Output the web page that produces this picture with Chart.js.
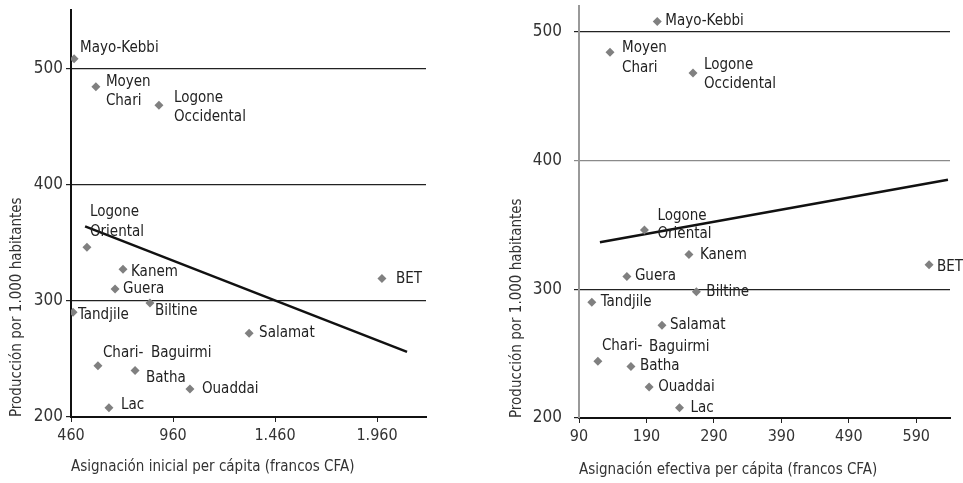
<!DOCTYPE html>
<html>
<head>
<meta charset="utf-8">
<script src="https://cdn.jsdelivr.net/npm/chart.js@4.4.1/dist/chart.umd.min.js"></script>
<style>
  body { margin: 0; background: #fff; }
  .caja { position: absolute; top: 0; height: 483px; }
</style>
</head>
<body>
<div class="caja" style="left:0;width:450px"><canvas id="graficoInicial"></canvas></div>
<div class="caja" style="left:480px;width:483px"><canvas id="graficoEfectiva"></canvas></div>
<script>
// dati: prefetture, produzione e assegnazioni

var nombres = [
    "Mayo-Kebbi", "Moyen Chari", "Logone Occidental", "Logone Oriental",
    "Kanem", "Guera", "Biltine", "Tandjile", "Salamat", "BET",
    "Chari-Baguirmi", "Batha", "Ouaddai", "Lac"
];
var produccion = [508, 484, 468, 346, 327, 310, 298, 290, 272, 319, 244, 240, 224, 208];
var asignacionInicial = [475, 582, 891, 538, 715, 676, 847, 470, 1333, 1984, 592, 774, 1043, 646];
var asignacionEfectiva = [206, 136, 259, 187, 253, 161, 264, 109, 213, 609, 118, 167, 194, 239];

// linee di tendenza (estremi)
var tendInicialX = [529, 2107];
var tendInicialY = [364, 256];
var tendEfectivaX = [121, 637];
var tendEfectivaY = [336.5, 385];

// etichette degli assi
var ticksY = [200, 300, 400, 500];
var ticksInicial = [460, 960, 1460, 1960];
var etiquetasInicial = ["460", "960", "1.460", "1.960"];
var ticksEfectiva = [90, 190, 290, 390, 490, 590];
var etiquetasEfectiva = ["90", "190", "290", "390", "490", "590"];

var fuente = "'Liberation Sans Narrow', 'DejaVu Sans Condensed', sans-serif";

// posizione delle etichette rispetto al punto
var posInicial = {
    "Mayo-Kebbi": [["Mayo-Kebbi", 6, -11]],
    "Moyen Chari": [["Moyen", 10, -5], ["Chari", 10, 14]],
    "Logone Occidental": [["Logone", 15, -7], ["Occidental", 15, 12]],
    "Logone Oriental": [["Logone", 3, -35], ["Oriental", 3, -15]],
    "Kanem": [["Kanem", 8, 3]],
    "Guera": [["Guera", 8, 0]],
    "Biltine": [["Biltine", 5, 8]],
    "Tandjile": [["Tandjile", 5, 3]],
    "Salamat": [["Salamat", 10, 0]],
    "BET": [["BET", 14, 0]],
    "Chari-Baguirmi": [["Chari-", 5, -13], ["Baguirmi", 53, -13]],
    "Batha": [["Batha", 11, 8]],
    "Ouaddai": [["Ouaddai", 12, 0]],
    "Lac": [["Lac", 12, -3]]
};
var posEfectiva = {
    "Mayo-Kebbi": [["Mayo-Kebbi", 8, 0]],
    "Moyen Chari": [["Moyen", 12, -4], ["Chari", 12, 16]],
    "Logone Occidental": [["Logone", 11, -8], ["Occidental", 11, 11]],
    "Logone Oriental": [["Logone", 13, -14], ["Oriental", 13, 4]],
    "Kanem": [["Kanem", 11, 1]],
    "Guera": [["Guera", 8, 0]],
    "Biltine": [["Biltine", 10, 0]],
    "Tandjile": [["Tandjile", 9, 0]],
    "Salamat": [["Salamat", 8, 0]],
    "BET": [["BET", 8, 2]],
    "Chari-Baguirmi": [["Chari-", 4, -15], ["Baguirmi", 51, -14]],
    "Batha": [["Batha", 9, 0]],
    "Ouaddai": [["Ouaddai", 9, 0]],
    "Lac": [["Lac", 11, 0]]
};

var pluginEtiquetas = {
    id: "etiquetas",
    afterDatasetsDraw: function (chart, args, opts) {
        var ctx = chart.ctx;
        var meta = chart.getDatasetMeta(0);
        ctx.save();
        ctx.font = "15px " + fuente;
        ctx.fillStyle = "#222";
        ctx.textAlign = "left";
        ctx.textBaseline = "middle";
        meta.data.forEach(function (pt, i) {
            var lineas = opts.pos[nombres[i]] || [];
            lineas.forEach(function (l) {
                ctx.fillText(l[0], pt.x + l[1], pt.y + l[2]);
            });
        });
        ctx.restore();
    }
};

function crearGrafico(id, xs, tx, ty, cfg) {
    var puntos = xs.map(function (v, i) { return { x: v, y: produccion[i] }; });
    var linea = tx.map(function (v, i) { return { x: v, y: ty[i] }; });
    return new Chart(document.getElementById(id), {
        type: "scatter",
        data: {
            datasets: [
                {
                    data: puntos,
                    pointStyle: "rectRot",
                    pointRadius: 4.5,
                    backgroundColor: "#808080",
                    borderWidth: 0
                },
                {
                    data: linea,
                    showLine: true,
                    borderColor: "#111",
                    borderWidth: 2.5,
                    pointRadius: 0
                }
            ]
        },
        options: {
            responsive: true,
            maintainAspectRatio: false,
            animation: false,
            layout: { padding: { top: cfg.top, right: cfg.right, left: 0, bottom: 0 } },
            plugins: {
                legend: { display: false },
                tooltip: { enabled: false },
                etiquetas: { pos: cfg.pos }
            },
            scales: {
                x: {
                    type: "linear",
                    min: cfg.xmin,
                    max: cfg.xmax,
                    afterBuildTicks: function (s) {
                        s.ticks = cfg.ticks.map(function (v) { return { value: v }; });
                    },
                    afterFit: function (s) {
                        s.height = cfg.xAlto;
                        s.paddingLeft = 0;
                        s.paddingRight = 0;
                    },
                    ticks: {
                        font: { family: fuente, size: 16 },
                        color: "#333",
                        padding: 4,
                        maxRotation: 0,
                        callback: function (v) {
                            return cfg.etiquetas[cfg.ticks.indexOf(v)];
                        }
                    },
                    grid: { drawOnChartArea: false, drawTicks: true, tickLength: 5, color: "#222" },
                    border: { color: "#111", width: 2 },
                    title: {
                        display: true,
                        text: cfg.tituloX,
                        align: "start",
                        font: { family: fuente, size: 15 },
                        color: "#333",
                        padding: { top: 0, bottom: cfg.padTX }
                    }
                },
                y: {
                    min: 200,
                    max: cfg.ymax,
                    afterBuildTicks: function (s) {
                        s.ticks = ticksY.map(function (v) { return { value: v }; });
                    },
                    afterFit: function (s) {
                        s.width = cfg.yAncho;
                        s.paddingTop = 0;
                        s.paddingBottom = 0;
                    },
                    ticks: {
                        font: { family: fuente, size: 17 },
                        color: "#333",
                        padding: cfg.padTicksY
                    },
                    grid: {
                        tickLength: 5,
                        lineWidth: 1.2,
                        color: function (c) {
                            return (cfg.gris && c.tick && c.tick.value === 400) ? "#8a8a8a" : "#222";
                        }
                    },
                    border: { color: cfg.ejeY, width: 2 },
                    title: {
                        display: true,
                        text: "Producción por 1.000 habitantes",
                        align: "start",
                        font: { family: fuente, size: 15 },
                        color: "#333",
                        padding: { top: cfg.padTY, bottom: 0 }
                    }
                }
            }
        },
        plugins: [pluginEtiquetas]
    });
}

crearGrafico("graficoInicial", asignacionInicial, tendInicialX, tendInicialY, {
    top: 10, right: 24, xmin: 460, xmax: 2200, ymax: 550,
    ticks: ticksInicial, etiquetas: etiquetasInicial,
    xAlto: 66, yAncho: 71, padTicksY: 3, padTX: 7, padTY: 8,
    tituloX: "Asignación inicial per cápita (francos CFA)",
    ejeY: "#111", gris: false, pos: posInicial
});

crearGrafico("graficoEfectiva", asignacionEfectiva, tendEfectivaX, tendEfectivaY, {
    top: 6, right: 13, xmin: 90, xmax: 640, ymax: 520,
    ticks: ticksEfectiva, etiquetas: etiquetasEfectiva,
    xAlto: 65, yAncho: 99, padTicksY: 12, padTX: 4, padTY: 28,
    tituloX: "Asignación efectiva per cápita (francos CFA)",
    ejeY: "#999", gris: true, pos: posEfectiva
});
</script>
</body>
</html>
